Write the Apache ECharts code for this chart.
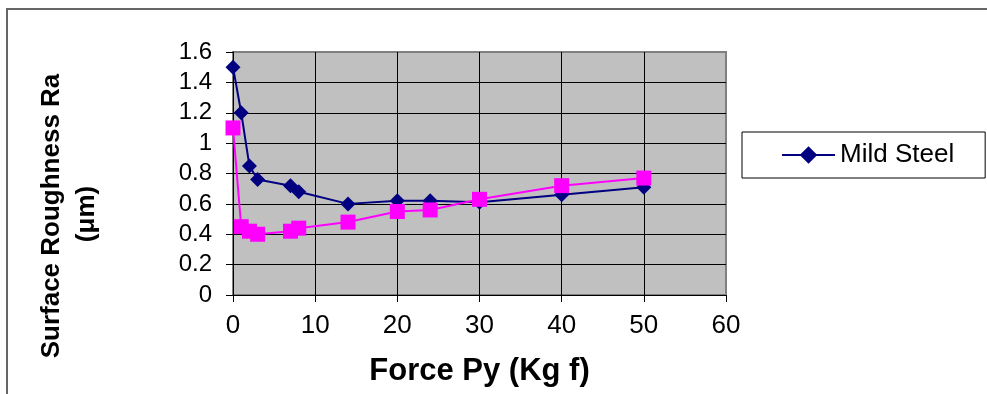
<!DOCTYPE html>
<html>
<head>
<meta charset="utf-8">
<script src="https://cdn.jsdelivr.net/npm/echarts@6/dist/echarts.min.js"></script>
<style>
  html, body { margin: 0; padding: 0; background: #ffffff; }
  #chart { width: 987px; height: 394px; }
</style>
</head>
<body>
<div id="chart"></div>
<script>
// Force applied (Kg f) at each measurement
const forceValues = [0, 1, 2, 3, 7, 8, 14, 20, 24, 30, 40, 50];
// Surface roughness Ra (µm), mild steel
const mildSteelRa = [1.5, 1.2, 0.85, 0.76, 0.72, 0.68, 0.6, 0.62, 0.62, 0.61, 0.66, 0.71];
// Surface roughness Ra (µm), second workpiece series
const secondSeriesRa = [1.1, 0.45, 0.42, 0.4, 0.42, 0.44, 0.48, 0.55, 0.56, 0.63, 0.72, 0.77];

const toPairs = (xs, ys) => xs.map((x, i) => [x, ys[i]]);

const font = '"Liberation Sans", Arial, sans-serif';
const chart = echarts.init(document.getElementById('chart'), null, { renderer: 'canvas' });

chart.setOption({
  animation: false,
  backgroundColor: '#ffffff',
  textStyle: { fontFamily: font },
  graphic: [
    {
      type: 'rect',
      shape: { x: 7, y: 9, width: 1000, height: 420 },
      style: { fill: 'none', stroke: '#666666', lineWidth: 2 },
      silent: true,
      z: -10
    },
    {
      type: 'text',
      x: 52, y: 216,
      rotation: Math.PI / 2,
      style: {
        text: 'Surface Roughness Ra',
        font: 'bold 26px ' + font,
        fill: '#000000',
        align: 'center',
        verticalAlign: 'middle'
      }
    },
    {
      type: 'text',
      x: 87, y: 214,
      rotation: Math.PI / 2,
      style: {
        text: '(\u03bcm)',
        font: 'bold 26px ' + font,
        fill: '#000000',
        align: 'center',
        verticalAlign: 'middle'
      }
    }
  ],
  grid: {
    left: 233, right: 261, top: 52, bottom: 99,
    outerBoundsMode: 'none',
    containLabel: false,
    show: true,
    backgroundColor: '#C0C0C0',
    borderColor: '#808080',
    borderWidth: 2
  },
  legend: {
    data: ['Mild Steel'],
    left: 742, top: 132,
    orient: 'vertical',
    padding: [10, 31, 10, 39],
    borderColor: '#000000',
    borderWidth: 1,
    itemWidth: 53,
    itemHeight: 22,
    itemGap: 5,
    textStyle: { fontSize: 26, color: '#000000', fontFamily: font }
  },
  xAxis: {
    type: 'value',
    min: 0, max: 60, interval: 10,
    name: 'Force Py (Kg f)',
    nameLocation: 'middle',
    nameGap: 61,
    nameTextStyle: { fontSize: 31, fontWeight: 'bold', color: '#000000', fontFamily: font },
    axisLine: { show: true, onZero: false, lineStyle: { color: '#000000', width: 1 } },
    axisTick: { show: true, length: 7, lineStyle: { color: '#000000' } },
    axisLabel: { fontSize: 26, color: '#000000', margin: 18, fontFamily: font },
    splitLine: { show: true, showMinLine: false, showMaxLine: false, lineStyle: { color: '#000000', width: 1 } }
  },
  yAxis: {
    type: 'value',
    min: 0, max: 1.6, interval: 0.2,
    axisLine: { show: true, lineStyle: { color: '#000000', width: 1 } },
    axisTick: { show: true, length: 7, lineStyle: { color: '#000000' } },
    axisLabel: { fontSize: 24, color: '#000000', margin: 21, fontFamily: font },
    splitLine: { show: true, showMinLine: false, showMaxLine: false, lineStyle: { color: '#000000', width: 1 } }
  },
  series: [
    {
      name: 'Mild Steel',
      type: 'line',
      data: toPairs(forceValues, mildSteelRa),
      symbol: 'diamond',
      symbolSize: 15,
      color: '#000080',
      lineStyle: { color: '#000080', width: 2 },
      itemStyle: { color: '#000080' },
      z: 2
    },
    {
      name: 'Series 2',
      type: 'line',
      data: toPairs(forceValues, secondSeriesRa),
      symbol: 'rect',
      symbolSize: 15,
      color: '#FF00FF',
      lineStyle: { color: '#FF00FF', width: 2 },
      itemStyle: { color: '#FF00FF' },
      z: 3
    }
  ]
});
</script>
</body>
</html>
